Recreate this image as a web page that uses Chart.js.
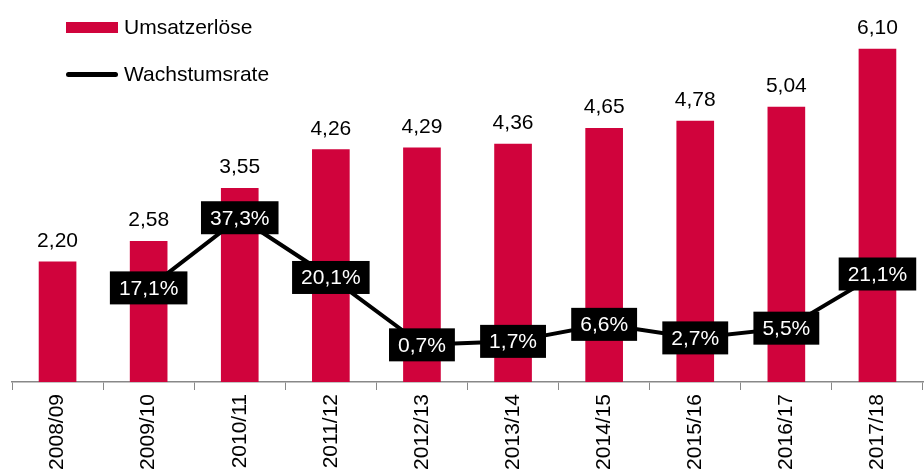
<!DOCTYPE html>
<html>
<head>
<meta charset="utf-8">
<script src="https://cdn.jsdelivr.net/npm/chart.js@4/dist/chart.umd.min.js"></script>
<style>
  body { margin: 0; background: #fff; font-family: "Liberation Sans", Arial, sans-serif; }
  #wrap { position: relative; width: 924px; height: 470px; overflow: hidden; }
  .legend { position: absolute; left: 66px; font-size: 21px; color: #000; display: flex; align-items: center; }
  .legend span.sw { display: inline-block; width: 52px; margin-right: 6px; }
</style>
</head>
<body>
<div id="wrap">
  <canvas id="chart" width="924" height="470"></canvas>
  <div class="legend" style="top:15px"><span class="sw" style="height:11px;background:#d0033c"></span>Umsatzerlöse</div>
  <div class="legend" style="top:62px"><span class="sw" style="height:5px;background:#000;border-radius:3px"></span>Wachstumsrate</div>
</div>
<script>
const years = ['2008/09', '2009/10', '2010/11', '2011/12', '2012/13', '2013/14', '2014/15', '2015/16', '2016/17', '2017/18'];
const revenue = [2.20, 2.58, 3.55, 4.26, 4.29, 4.36, 4.65, 4.78, 5.04, 6.10];
const growth = [null, 17.1, 37.3, 20.1, 0.7, 1.7, 6.6, 2.7, 5.5, 21.1];

const red = '#d0033c';

function fmt(v, digits) {
  return v.toFixed(digits).replace('.', ',');
}

const labelPlugin = {
  id: 'labels',
  afterDatasetsDraw(chart) {
    const ctx = chart.ctx;
    ctx.save();
    ctx.textAlign = 'center';
    ctx.font = '21px "Liberation Sans", Arial, sans-serif';

    // bar values
    ctx.fillStyle = '#000';
    ctx.textBaseline = 'alphabetic';
    chart.getDatasetMeta(0).data.forEach((bar, i) => {
      ctx.fillText(fmt(revenue[i], 2), bar.x, bar.y - 15);
    });

    // growth boxes
    ctx.textBaseline = 'middle';
    chart.getDatasetMeta(1).data.forEach((pt, i) => {
      if (growth[i] == null) return;
      const txt = fmt(growth[i], 1) + '%';
      const w = ctx.measureText(txt).width + 18;
      const h = 33;
      ctx.fillStyle = '#000';
      ctx.fillRect(pt.x - w / 2, pt.y - h / 2, w, h);
      ctx.fillStyle = '#fff';
      ctx.fillText(txt, pt.x, pt.y + 1);
    });
    ctx.restore();
  }
};

new Chart(document.getElementById('chart'), {
  data: {
    labels: years,
    datasets: [
      {
        type: 'bar',
        data: revenue,
        backgroundColor: red,
        barThickness: 37,
        yAxisID: 'y',
        order: 2
      },
      {
        type: 'line',
        data: growth,
        borderColor: '#000',
        borderWidth: 4,
        pointRadius: 0,
        tension: 0,
        yAxisID: 'y2',
        order: 1
      }
    ]
  },
  options: {
    responsive: false,
    animation: false,
    layout: { padding: { left: 12, right: 1, top: 0, bottom: 0 } },
    plugins: {
      legend: { display: false },
      tooltip: { enabled: false }
    },
    scales: {
      x: {
        offset: true,
        grid: { offset: true, drawOnChartArea: false, drawTicks: true, tickLength: 8, color: '#888' },
        border: { color: '#888', width: 1.5 },
        ticks: {
          color: '#000',
          font: { size: 21, family: '"Liberation Sans", Arial, sans-serif' },
          minRotation: 90,
          maxRotation: 90,
          padding: 4
        },
        afterFit(scale) { scale.height = 88; }
      },
      y: { display: false, min: 0, max: 7 },
      y2: { display: false, min: -10, max: 100 }
    }
  },
  plugins: [labelPlugin]
});
</script>
</body>
</html>
